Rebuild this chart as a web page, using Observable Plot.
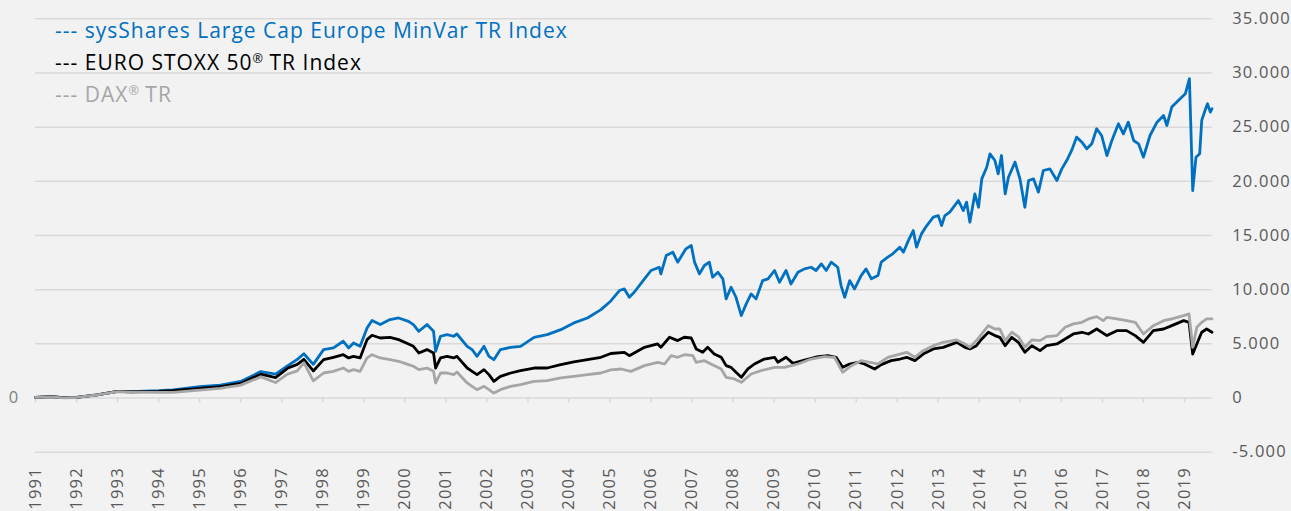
<!DOCTYPE html>
<html><head><meta charset="utf-8">
<script src="https://cdn.jsdelivr.net/npm/d3@7"></script>
<script src="https://cdn.jsdelivr.net/npm/@observablehq/plot@0.6"></script>
<style>
html,body{margin:0;padding:0;background:#f2f2f2;}
#wrap{position:relative;width:1291px;height:511px;overflow:hidden;}
#wrap svg text{letter-spacing:1.2px;}
#legend{position:absolute;left:55px;top:14px;font-family:"Open Sans";font-size:21px;line-height:32px;letter-spacing:1px;white-space:nowrap;}
#legend sup{font-size:0.6em;line-height:0;vertical-align:0.55em;letter-spacing:0;}
</style></head>
<body><div id="wrap"></div>
<script>
const seriesNames = ["sysShares Large Cap Europe MinVar TR Index", "EURO STOXX 50® TR Index", "DAX® TR"];
const seriesColors = ["#0070c0", "#000000", "#a6a6a6"];

const yTicks = [-5000, 0, 5000, 10000, 15000, 20000, 25000, 30000, 35000];
const yTickLabels = ["-5.000", "0", "5.000", "10.000", "15.000", "20.000", "25.000", "30.000", "35.000"];
const yearTicks = [1991,1992,1993,1994,1995,1996,1997,1998,1999,2000,2001,2002,2003,2004,2005,2006,2007,2008,2009,2010,2011,2012,2013,2014,2015,2016,2017,2018,2019];
const yearLabels = ["1991","1992","1993","1994","1995","1996","1997","1998","1999","2000","2001","2002","2003","2004","2005","2006","2007","2008","2009","2010","2011","2012","2013","2014","2015","2016","2017","2018","2019"];

// [axis position in years, index value]
const minvar = [[1991.00,60],[1991.37,120],[1991.69,30],[1992.00,60],[1992.50,300],[1993.00,610],[1993.33,580],[1994.00,670],[1994.35,760],[1995.00,1040],[1995.50,1190],[1996.00,1525],[1996.49,2440],[1996.85,2200],[1997.14,2960],[1997.38,3570],[1997.54,4090],[1997.77,3110],[1998.02,4470],[1998.26,4620],[1998.50,5240],[1998.63,4620],[1998.75,5080],[1998.91,4770],[1999.08,6470],[1999.20,7150],[1999.40,6780],[1999.64,7240],[1999.85,7390],[2000.09,7080],[2000.21,6780],[2000.34,6160],[2000.54,6780],[2000.70,6160],[2000.75,4310],[2000.87,5700],[2001.03,5850],[2001.19,5700],[2001.27,5910],[2001.52,4770],[2001.64,4470],[2001.76,3850],[2001.93,4770],[2002.05,3850],[2002.17,3540],[2002.33,4470],[2002.58,4680],[2002.82,4770],[2003.15,5600],[2003.47,5850],[2003.80,6310],[2004.12,6930],[2004.45,7390],[2004.78,8160],[2005.02,8960],[2005.23,9920],[2005.35,10070],[2005.47,9300],[2005.59,9760],[2005.84,11000],[2006.00,11770],[2006.20,12070],[2006.24,11460],[2006.37,13150],[2006.53,13460],[2006.65,12540],[2006.85,13770],[2006.98,14080],[2007.06,12540],[2007.18,11460],[2007.30,12230],[2007.42,12540],[2007.50,11150],[2007.63,11610],[2007.75,11000],[2007.83,9150],[2007.95,10230],[2008.07,9300],[2008.20,7610],[2008.32,8690],[2008.44,9610],[2008.56,9150],[2008.72,10840],[2008.85,11000],[2009.01,11770],[2009.13,10690],[2009.29,11770],[2009.41,10530],[2009.58,11610],[2009.74,11920],[2009.90,12070],[2010.02,11770],[2010.15,12380],[2010.27,11770],[2010.39,12540],[2010.55,12070],[2010.63,10380],[2010.72,9300],[2010.84,10840],[2010.96,10070],[2011.12,11300],[2011.24,11920],[2011.37,11000],[2011.53,11300],[2011.61,12540],[2011.77,13000],[2011.89,13310],[2012.06,13920],[2012.15,13460],[2012.27,14530],[2012.39,15460],[2012.47,13920],[2012.59,15150],[2012.72,15920],[2012.88,16690],[2013.00,16840],[2013.08,15920],[2013.16,16840],[2013.28,17150],[2013.49,18230],[2013.61,17300],[2013.69,18080],[2013.77,16230],[2013.89,18840],[2013.98,17610],[2014.06,20230],[2014.18,21300],[2014.26,22540],[2014.38,21920],[2014.46,20690],[2014.54,22380],[2014.63,18840],[2014.71,20380],[2014.87,21770],[2014.99,20230],[2015.11,17610],[2015.20,20080],[2015.32,20230],[2015.44,19000],[2015.56,21000],[2015.72,21150],[2015.89,20080],[2016.01,21150],[2016.13,21920],[2016.25,22850],[2016.37,24080],[2016.50,23610],[2016.62,23000],[2016.74,23460],[2016.86,24850],[2016.98,24230],[2017.11,22380],[2017.23,23770],[2017.39,25310],[2017.51,24380],[2017.63,25460],[2017.76,23770],[2017.88,23460],[2018.00,22230],[2018.16,24230],[2018.33,25460],[2018.49,26080],[2018.57,25150],[2018.69,26850],[2018.85,27460],[2019.02,28080],[2019.12,29470],[2019.15,25620],[2019.20,19150],[2019.28,22230],[2019.37,22540],[2019.42,25620],[2019.50,26540],[2019.56,27160],[2019.63,26390],[2019.67,26700]];

const stoxx = [[1991.00,60],[1991.37,120],[1991.69,30],[1992.00,60],[1992.50,300],[1993.00,610],[1993.33,580],[1994.00,610],[1994.35,670],[1995.00,885],[1995.50,1040],[1996.00,1340],[1996.49,2200],[1996.85,1890],[1997.14,2745],[1997.38,3110],[1997.54,3570],[1997.77,2500],[1998.02,3540],[1998.26,3760],[1998.50,4000],[1998.63,3700],[1998.75,3850],[1998.91,3700],[1999.08,5390],[1999.20,5790],[1999.40,5540],[1999.64,5600],[1999.85,5390],[2000.09,4990],[2000.21,4770],[2000.34,4160],[2000.54,4470],[2000.70,4160],[2000.75,2770],[2000.87,3700],[2001.03,3850],[2001.19,3700],[2001.27,3850],[2001.52,2770],[2001.64,2460],[2001.76,2160],[2001.93,2620],[2002.05,2160],[2002.17,1540],[2002.33,2000],[2002.58,2310],[2002.82,2530],[2003.15,2770],[2003.47,2770],[2003.80,3080],[2004.12,3330],[2004.45,3540],[2004.78,3760],[2005.02,4110],[2005.35,4220],[2005.47,3910],[2005.84,4680],[2006.16,4990],[2006.24,4680],[2006.45,5610],[2006.65,5300],[2006.81,5610],[2006.98,5540],[2007.10,4530],[2007.26,4220],[2007.38,4680],[2007.54,4070],[2007.71,3760],[2007.83,2990],[2007.95,2830],[2008.07,2370],[2008.20,1910],[2008.36,2680],[2008.52,3140],[2008.76,3600],[2009.01,3760],[2009.09,3300],[2009.29,3760],[2009.46,3200],[2009.74,3510],[2010.07,3820],[2010.31,3910],[2010.51,3760],[2010.67,2830],[2010.84,3140],[2011.04,3300],[2011.20,3140],[2011.45,2680],[2011.61,3080],[2011.85,3450],[2012.07,3600],[2012.23,3760],[2012.43,3450],[2012.63,4060],[2012.88,4530],[2013.12,4680],[2013.45,5140],[2013.65,4680],[2013.77,4530],[2013.93,4830],[2014.06,5450],[2014.22,6070],[2014.38,5760],[2014.50,5600],[2014.63,4830],[2014.79,5600],[2014.95,5140],[2015.11,4220],[2015.28,4830],[2015.48,4370],[2015.64,4830],[2015.89,4990],[2016.09,5450],[2016.29,5910],[2016.50,6070],[2016.66,5910],[2016.86,6370],[2017.11,5760],[2017.35,6220],[2017.59,6220],[2017.80,5760],[2018.00,5140],[2018.24,6220],[2018.49,6370],[2018.69,6680],[2018.98,7140],[2019.11,6990],[2019.20,4060],[2019.30,4990],[2019.42,6070],[2019.54,6370],[2019.67,6070]];

const dax = [[1991.00,60],[1991.37,100],[1991.69,20],[1992.00,50],[1992.50,280],[1993.00,580],[1993.33,550],[1994.00,520],[1994.35,520],[1995.00,730],[1995.50,885],[1996.00,1190],[1996.49,1950],[1996.85,1430],[1997.14,2200],[1997.38,2500],[1997.54,3260],[1997.77,1590],[1998.02,2310],[1998.26,2460],[1998.50,2770],[1998.63,2460],[1998.75,2620],[1998.91,2460],[1999.08,3700],[1999.20,4000],[1999.40,3700],[1999.64,3540],[1999.85,3390],[2000.09,3080],[2000.21,2930],[2000.34,2620],[2000.54,2770],[2000.70,2460],[2000.75,1390],[2000.87,2310],[2001.03,2310],[2001.19,2160],[2001.27,2400],[2001.52,1390],[2001.64,1080],[2001.76,770],[2001.93,1080],[2002.05,770],[2002.17,460],[2002.33,770],[2002.58,1080],[2002.82,1230],[2003.15,1540],[2003.47,1600],[2003.80,1850],[2004.12,2000],[2004.45,2160],[2004.78,2310],[2005.02,2600],[2005.27,2680],[2005.51,2460],[2005.84,2990],[2006.16,3300],[2006.33,3140],[2006.49,3910],[2006.65,3760],[2006.81,4000],[2007.02,3910],[2007.10,3300],[2007.30,3450],[2007.46,3140],[2007.71,2680],[2007.83,1910],[2008.03,1760],[2008.20,1450],[2008.44,2220],[2008.68,2530],[2009.01,2830],[2009.25,2830],[2009.58,3140],[2009.90,3600],[2010.23,3820],[2010.47,3760],[2010.67,2370],[2010.88,2990],[2011.12,3450],[2011.33,3300],[2011.53,3140],[2011.77,3760],[2012.02,4000],[2012.23,4220],[2012.43,3760],[2012.63,4370],[2012.88,4830],[2013.12,5140],[2013.45,5360],[2013.65,4990],[2013.77,4680],[2013.93,5300],[2014.06,5910],[2014.22,6680],[2014.38,6370],[2014.50,6370],[2014.63,5300],[2014.79,6070],[2014.95,5670],[2015.11,4680],[2015.28,5360],[2015.48,5300],[2015.64,5670],[2015.89,5760],[2016.09,6530],[2016.29,6840],[2016.50,6990],[2016.66,7300],[2016.86,7510],[2017.02,7140],[2017.11,7450],[2017.35,7300],[2017.59,7140],[2017.80,6990],[2018.00,5910],[2018.24,6680],[2018.49,7140],[2018.69,7300],[2018.98,7610],[2019.11,7760],[2019.20,4680],[2019.30,6530],[2019.42,6990],[2019.54,7300],[2019.67,7300]];

const seriesData = [minvar, stoxx, dax];
const yLabelOf = new Map(yTicks.map((t, i) => [t, yTickLabels[i]]));
const yearLabelOf = new Map(yearTicks.map((t, i) => [t, yearLabels[i]]));

const chart = Plot.plot({
  width: 1291,
  height: 511,
  marginLeft: 35,
  marginRight: 79.3,
  marginTop: 18.3,
  marginBottom: 59.3,
  style: {background: "#f2f2f2", fontFamily: "Open Sans", fontSize: "16px", overflow: "visible"},
  x: {type: "linear", domain: [1991, 2019.675], axis: null},
  y: {domain: [-5000, 35000], axis: null},
  marks: [
    Plot.gridY(yTicks, {stroke: "#d9d9d9", strokeOpacity: 1, strokeWidth: 1.5}),
    Plot.ruleX(yearTicks, {x: d => d, y1: 0, y2: 0, insetBottom: -5, stroke: "#d9d9d9", strokeWidth: 1.5}),
    Plot.axisY(yTicks, {anchor: "right", tickSize: 0, tickPadding: 20, textAnchor: "start", tickFormat: d => yLabelOf.get(d), fill: "#595959", fontSize: 16.5}),
    Plot.axisX(yearTicks, {anchor: "bottom", tickSize: 0, tickPadding: 15, tickRotate: -90, tickFormat: d => yearLabelOf.get(d), fill: "#595959", fontSize: 16.5}),
    Plot.text([0], {y: d => d, frameAnchor: "left", dx: -16, textAnchor: "end", text: d => yLabelOf.get(d), fill: "#7f7f7f", fontSize: 16.5}),
    ...seriesData.map((s, i) => Plot.line(s, {x: d => d[0], y: d => d[1], stroke: seriesColors[i], strokeWidth: 2.8, strokeLinejoin: "round"}))
  ]
});

const wrap = document.getElementById("wrap");
wrap.appendChild(chart);

const legend = document.createElement("div");
legend.id = "legend";
seriesNames.forEach((name, i) => {
  const row = document.createElement("div");
  row.style.color = seriesColors[i];
  row.innerHTML = "--- " + name.replace(/®/g, "<sup>®</sup>");
  legend.appendChild(row);
});
wrap.appendChild(legend);
</script>
</body></html>
